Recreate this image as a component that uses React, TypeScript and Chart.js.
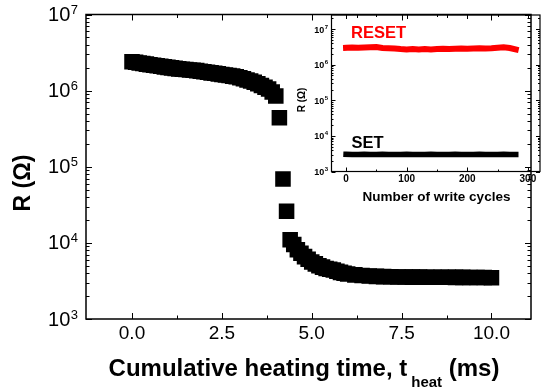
import React, { useEffect, useRef } from "react";
import { Chart, registerables } from "chart.js";

Chart.register(...registerables);

// Main curve: resistance vs. cumulative heating time
const heatTimeMs = [
  0, 0.1, 0.2, 0.3, 0.4, 0.5, 0.6, 0.7, 0.8, 0.9, 1.0, 1.1, 1.2, 1.3, 1.4, 1.5,
  1.6, 1.7, 1.8, 1.9, 2.0, 2.1, 2.2, 2.3, 2.4, 2.5, 2.6, 2.7, 2.8, 2.9, 3.0,
  3.1, 3.2, 3.3, 3.4, 3.5, 3.6, 3.7, 3.8, 3.9, 4.0, 4.1, 4.2, 4.3, 4.4, 4.5,
  4.6, 4.7, 4.8, 4.9, 5.0, 5.1, 5.2, 5.3, 5.4, 5.5, 5.6, 5.7, 5.8, 5.9, 6.0,
  6.2, 6.4, 6.6, 6.8, 7.0, 7.2, 7.4, 7.6, 7.8, 8.0, 8.2, 8.4, 8.6, 8.8, 9.0,
  9.2, 9.4, 9.6, 9.8, 10.0,
];
const resistanceOhm = [
  2.4e6, 2.36e6, 2.31e6, 2.27e6, 2.23e6, 2.19e6, 2.15e6, 2.12e6, 2.09e6, 2.05e6,
  2.02e6, 1.99e6, 1.96e6, 1.93e6, 1.91e6, 1.89e6, 1.87e6, 1.85e6, 1.83e6, 1.8e6,
  1.77e6, 1.74e6, 1.71e6, 1.69e6, 1.66e6, 1.63e6, 1.6e6, 1.58e6, 1.55e6, 1.52e6,
  1.48e6, 1.43e6, 1.38e6, 1.34e6, 1.29e6, 1.23e6, 1.17e6, 1.11e6, 1.05e6, 9.6e5,
  8.5e5, 4.4e5, 6.9e4, 2.6e4, 1.1e4, 9.5e3, 8.1e3, 7.3e3, 6.6e3, 6.1e3, 5.6e3,
  5.3e3, 5.0e3, 4.8e3, 4.6e3, 4.5e3, 4.4e3, 4.25e3, 4.1e3, 4.0e3, 3.9e3,
  3.8e3, 3.72e3, 3.67e3, 3.63e3, 3.6e3, 3.58e3, 3.57e3, 3.56e3, 3.55e3, 3.55e3,
  3.54e3, 3.54e3, 3.53e3, 3.53e3, 3.52e3, 3.52e3, 3.51e3, 3.5e3, 3.5e3, 3.49e3,
];

// Inset: endurance over write cycles
const writeCycles = [
  0, 10, 20, 30, 40, 50, 60, 70, 80, 90, 100, 110, 120, 130, 140, 150, 160, 170,
  180, 190, 200, 210, 220, 230, 240, 250, 260, 270, 280,
];
const resetOhm = [
  3.0e6, 3.05e6, 3.0e6, 3.05e6, 3.1e6, 3.15e6, 2.95e6, 2.9e6, 2.85e6, 2.75e6,
  2.7e6, 2.75e6, 2.7e6, 2.75e6, 2.7e6, 2.75e6, 2.8e6, 2.75e6, 2.8e6, 2.85e6,
  2.8e6, 2.85e6, 2.9e6, 2.85e6, 2.9e6, 3.0e6, 3.1e6, 2.95e6, 2.7e6,
];
const setOhm = [
  3.05e3, 3.0e3, 3.0e3, 3.05e3, 3.0e3, 3.0e3, 3.05e3, 3.0e3, 3.0e3, 3.0e3,
  3.05e3, 3.0e3, 3.0e3, 3.0e3, 3.05e3, 3.0e3, 3.0e3, 3.0e3, 3.05e3, 3.0e3,
  3.0e3, 3.0e3, 3.05e3, 3.0e3, 3.0e3, 3.0e3, 3.05e3, 3.0e3, 3.0e3,
];

// Axis ticks
const mainXMajor = [0, 2.5, 5, 7.5, 10];
const mainXMinor = [1.25, 3.75, 6.25, 8.75];
const mainXLabels = ["0.0", "2.5", "5.0", "7.5", "10.0"];
const mainDecades = [3, 4, 5, 6, 7];
const insetXMajor = [0, 100, 200, 300];
const insetXMinor = [50, 150, 250];
const insetXLabels = ["0", "100", "200", "300"];
const insetDecades = [3, 4, 5, 6, 7];

const FONT = '"Liberation Sans", Arial, Helvetica, sans-serif';

type TickSpec = {
  xMajor: number[];
  xMinor: number[];
  decades: number[];
  major: number;
  minor: number;
  frame: number;
};

function drawFrameAndTicks(chart: any, s: TickSpec) {
  const { ctx, chartArea: a, scales } = chart;
  const x = scales.x;
  const y = scales.y;
  ctx.save();
  ctx.strokeStyle = "#000";
  ctx.lineWidth = s.frame;
  ctx.strokeRect(a.left, a.top, a.right - a.left, a.bottom - a.top);
  ctx.lineWidth = 1;
  ctx.beginPath();
  const vTick = (v: number, len: number) => {
    const px = Math.round(x.getPixelForValue(v)) + 0.5;
    ctx.moveTo(px, a.bottom);
    ctx.lineTo(px, a.bottom - len);
    ctx.moveTo(px, a.top);
    ctx.lineTo(px, a.top + len);
  };
  const hTick = (v: number, len: number) => {
    const py = Math.round(y.getPixelForValue(v)) + 0.5;
    ctx.moveTo(a.left, py);
    ctx.lineTo(a.left + len, py);
    ctx.moveTo(a.right, py);
    ctx.lineTo(a.right - len, py);
  };
  s.xMajor.forEach((v) => vTick(v, s.major));
  s.xMinor.forEach((v) => vTick(v, s.minor));
  const yMin = y.min;
  const yMax = y.max;
  s.decades.forEach((d) => {
    const base = Math.pow(10, d);
    if (base >= yMin && base <= yMax) hTick(base, s.major);
    for (let m = 2; m <= 9; m++) {
      const v = m * base;
      if (v > yMin && v < yMax) hTick(v, s.minor);
    }
  });
  ctx.stroke();
  ctx.restore();
}

function drawPowerLabel(
  ctx: CanvasRenderingContext2D,
  rightX: number,
  cy: number,
  exp: string,
  baseFont: string,
  expFont: string,
  expRise: number
) {
  ctx.font = expFont;
  const ew = ctx.measureText(exp).width;
  ctx.textAlign = "left";
  ctx.textBaseline = "alphabetic";
  ctx.fillText(exp, rightX - ew, cy - expRise);
  ctx.font = baseFont;
  ctx.textAlign = "right";
  ctx.textBaseline = "middle";
  ctx.fillText("10", rightX - ew - 0.5, cy + 1);
}

const mainDecor = {
  id: "mainDecor",
  afterDraw(chart: any) {
    const { ctx, scales } = chart;
    drawFrameAndTicks(chart, {
      xMajor: mainXMajor,
      xMinor: mainXMinor,
      decades: mainDecades,
      major: 6,
      minor: 3.5,
      frame: 1.5,
    });
    ctx.save();
    ctx.fillStyle = "#000";
    // x tick labels
    ctx.font = `19px ${FONT}`;
    ctx.textAlign = "center";
    ctx.textBaseline = "middle";
    mainXMajor.forEach((v, i) => {
      ctx.fillText(mainXLabels[i], scales.x.getPixelForValue(v), 334);
    });
    // y tick labels
    mainDecades.forEach((d) => {
      const py = scales.y.getPixelForValue(Math.pow(10, d));
      drawPowerLabel(ctx, 78, py, String(d), `20px ${FONT}`, `13px ${FONT}`, 0.5);
    });
    // y title
    ctx.save();
    ctx.translate(24, 183);
    ctx.rotate(-Math.PI / 2);
    ctx.font = `bold 23px ${FONT}`;
    ctx.textAlign = "center";
    ctx.textBaseline = "middle";
    ctx.fillText("R (\u03A9)", 0, 0);
    ctx.restore();
    // x title with subscript
    const p1 = "Cumulative heating time, t";
    const sub = "heat";
    const p2 = " (ms)";
    ctx.textAlign = "left";
    ctx.textBaseline = "alphabetic";
    ctx.font = `bold 24px ${FONT}`;
    const w1 = ctx.measureText(p1).width;
    const w3 = ctx.measureText(p2).width;
    ctx.font = `bold 15px ${FONT}`;
    const w2 = ctx.measureText(sub).width;
    const gap = 4;
    const total = w1 + gap + w2 + w3;
    const start = 304 - total / 2;
    ctx.font = `bold 24px ${FONT}`;
    ctx.fillText(p1, start, 376);
    ctx.fillText(p2, start + w1 + gap + w2, 376);
    ctx.font = `bold 15px ${FONT}`;
    ctx.fillText(sub, start + w1 + gap, 387);
    ctx.restore();
  },
};

const insetDecor = {
  id: "insetDecor",
  afterDraw(chart: any) {
    const { ctx, scales } = chart;
    drawFrameAndTicks(chart, {
      xMajor: insetXMajor,
      xMinor: insetXMinor,
      decades: insetDecades,
      major: 4,
      minor: 2,
      frame: 1.2,
    });
    ctx.save();
    ctx.fillStyle = "#000";
    ctx.font = `bold 10px ${FONT}`;
    ctx.textAlign = "center";
    ctx.textBaseline = "middle";
    insetXMajor.forEach((v, i) => {
      ctx.fillText(insetXLabels[i], scales.x.getPixelForValue(v), 179);
    });
    insetDecades.forEach((d) => {
      const py = scales.y.getPixelForValue(Math.pow(10, d));
      drawPowerLabel(ctx, 328, py, String(d), `bold 9px ${FONT}`, `bold 6px ${FONT}`, 0.5);
    });
    ctx.save();
    ctx.translate(302, 100);
    ctx.rotate(-Math.PI / 2);
    ctx.font = `bold 10px ${FONT}`;
    ctx.textAlign = "center";
    ctx.textBaseline = "middle";
    ctx.fillText("R (\u03A9)", 0, 0);
    ctx.restore();
    ctx.font = `bold 13.5px ${FONT}`;
    ctx.textAlign = "center";
    ctx.textBaseline = "middle";
    ctx.fillText("Number of write cycles", 436.5, 197);
    ctx.textAlign = "left";
    ctx.textBaseline = "alphabetic";
    ctx.font = `bold 16.5px ${FONT}`;
    ctx.fillStyle = "#ff0000";
    ctx.fillText("RESET", 351, 37.5);
    ctx.fillStyle = "#000";
    ctx.fillText("SET", 351.5, 147.5);
    ctx.restore();
  },
};

export default function App() {
  const mainRef = useRef<HTMLCanvasElement>(null);
  const insetRef = useRef<HTMLCanvasElement>(null);

  useEffect(() => {
    if (!mainRef.current || !insetRef.current) return;
    const main = new Chart(mainRef.current, {
      type: "scatter",
      data: {
        datasets: [
          {
            data: heatTimeMs.map((t, i) => ({ x: t, y: resistanceOhm[i] })),
            pointStyle: "rect",
            pointRadius: 11,
            pointBackgroundColor: "#000",
            pointBorderWidth: 0,
            showLine: false,
          },
        ],
      },
      options: {
        responsive: false,
        animation: false,
        devicePixelRatio: 1,
        events: [],
        layout: { padding: { left: 86, top: 14.5, right: 1.5, bottom: 73 } },
        plugins: { legend: { display: false }, tooltip: { enabled: false } },
        scales: {
          x: { type: "linear", display: false, min: -1.28, max: 11.1 },
          y: { type: "logarithmic", display: false, min: 1e3, max: 1e7 },
        },
      },
      plugins: [mainDecor],
    } as any);

    const inset = new Chart(insetRef.current, {
      type: "line",
      data: {
        datasets: [
          {
            data: writeCycles.map((c, i) => ({ x: c, y: resetOhm[i] })),
            borderColor: "#ff0000",
            borderWidth: 6,
            borderCapStyle: "square",
            pointRadius: 0,
            tension: 0,
          },
          {
            data: writeCycles.map((c, i) => ({ x: c, y: setOhm[i] })),
            borderColor: "#000",
            borderWidth: 5.5,
            borderCapStyle: "square",
            pointRadius: 0,
            tension: 0,
          },
        ],
      },
      options: {
        responsive: false,
        animation: false,
        devicePixelRatio: 1,
        events: [],
        layout: { padding: { left: 331.5, top: 15, right: 2, bottom: 220.5 } },
        plugins: { legend: { display: false }, tooltip: { enabled: false } },
        scales: {
          x: { type: "linear", display: false, min: -24, max: 320 },
          y: { type: "logarithmic", display: false, min: 1e3, max: 2.5e7 },
        },
      },
      plugins: [insetDecor],
    } as any);

    return () => {
      main.destroy();
      inset.destroy();
    };
  }, []);

  return (
    <div
      style={{
        position: "fixed",
        left: 0,
        top: 0,
        width: 542,
        height: 392,
        background: "#fff",
      }}
    >
      <canvas
        ref={mainRef}
        width={542}
        height={392}
        style={{ position: "absolute", left: 0, top: 0, width: 542, height: 392 }}
      />
      <canvas
        ref={insetRef}
        width={542}
        height={392}
        style={{ position: "absolute", left: 0, top: 0, width: 542, height: 392 }}
      />
    </div>
  );
}
